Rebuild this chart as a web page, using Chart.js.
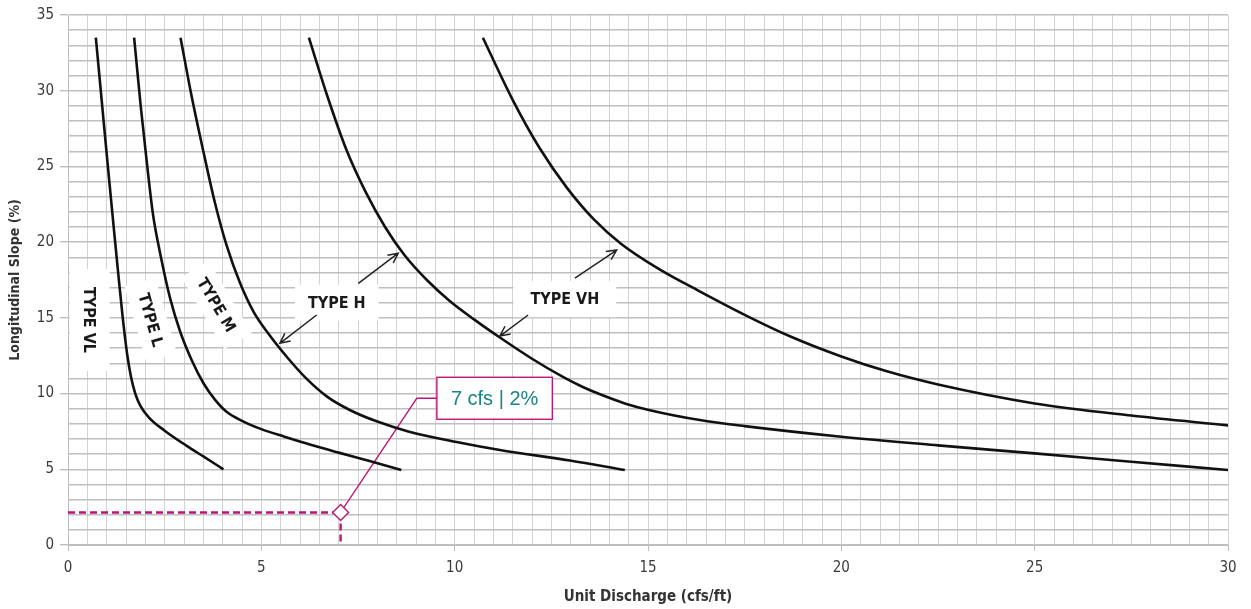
<!DOCTYPE html>
<html>
<head>
<meta charset="utf-8">
<script src="https://cdn.jsdelivr.net/npm/chart.js@4.4.1/dist/chart.umd.min.js"></script>
<style>
  html,body{margin:0;padding:0;background:#fff;}
  canvas{display:block;}
</style>
</head>
<body>
<canvas id="c" width="1251" height="609"></canvas>
<script>
// ---------- data ----------
const typeVL = [[0.72,33.5],[0.87,29.4],[1.02,25.3],[1.17,21.3],[1.3,17.9],[1.42,14.9],[1.53,12.6],[1.63,11.1],[1.74,10.0],[1.88,9.15],[2.1,8.4],[2.5,7.55],[3.07,6.55],[3.5,5.85],[4.02,5.0]];
const typeL  = [[1.71,33.5],[1.88,29],[2.05,25],[2.2,21.8],[2.38,19.3],[2.64,16.3],[2.9,14.1],[3.2,12.2],[3.5,10.7],[3.8,9.6],[4.1,8.8],[4.5,8.2],[5.0,7.65],[5.6,7.15],[6.3,6.6],[7.0,6.1],[7.8,5.55],[8.62,4.95]];
const typeM  = [[2.91,33.5],[3.2,29.6],[3.5,26.0],[3.8,22.6],[4.1,19.8],[4.45,17.3],[4.8,15.4],[5.2,13.9],[5.7,12.3],[6.2,10.9],[6.7,9.8],[7.3,8.9],[8.0,8.15],[8.8,7.5],[10.05,6.8],[11.17,6.27],[12.98,5.58],[14.4,4.95]];
const typeH  = [[6.23,33.5],[6.7,29.7],[7.2,26.1],[7.7,23.3],[8.2,21.0],[8.7,19.15],[9.3,17.45],[9.88,16.1],[10.5,14.9],[11.17,13.7],[12.0,12.3],[12.8,11.1],[13.3,10.45],[13.76,9.95],[14.4,9.35],[15.05,8.9],[16.34,8.25],[17.5,7.85],[20,7.15],[22.5,6.58],[25,6.05],[27.5,5.5],[30,4.95]];
const typeVH = [[10.73,33.5],[11.5,29.4],[12.2,26.2],[12.9,23.6],[13.6,21.5],[14.3,19.9],[15.3,18.2],[16.3,16.8],[17.5,15.2],[18.7,13.75],[20,12.45],[21.2,11.45],[22.5,10.6],[25,9.35],[27.5,8.55],[30,7.9]];
const designPoint = [7.05, 2.15];           // 7 cfs | 2%
const designLabel = '7 cfs | 2%';
const curveNames = ['TYPE VL','TYPE L','TYPE M','TYPE H','TYPE VH'];
const xTickLabels = [0,5,10,15,20,25,30];
const yTickLabels = [0,5,10,15,20,25,30,35];
const xTitle = 'Unit Discharge (cfs/ft)';
const yTitle = 'Longitudinal Slope (%)';

// ---------- styling ----------
const MAG = '#bb1677';
const TEAL = '#1b8385';
const LBLFONT = '"Liberation Sans Narrow","DejaVu Sans Condensed",Arial,sans-serif';

const toXY = a => a.map(p => ({x:p[0], y:p[1]}));
const curve = (name, pts) => ({
  label:name, data:toXY(pts), showLine:true, borderColor:'#111', borderWidth:2.6,
  pointRadius:0, cubicInterpolationMode:'monotone', fill:false
});

// labels / arrows positioned in data units
const labelDefs = [
  {text:curveNames[0], x:0.56, y:14.86, rot:90,  padX:18, padY:14},
  {text:curveNames[1], x:2.14, y:14.86, rot:74,  padX:12, padY:10},
  {text:curveNames[2], x:3.84, y:15.85, rot:59,  padX:12, padY:10},
  {text:curveNames[3], x:6.95, y:16.0,  rot:0,   padX:13, padY:12},
  {text:curveNames[4], x:12.85,y:16.23, rot:0,   padX:17, padY:12}
];
const arrowDefs = [
  [7.51,17.28, 8.54,19.27],
  [6.43,15.19, 5.48,13.32],
  [13.11,17.62,14.19,19.48],
  [11.9,15.19, 11.17,13.8]
];
const calloutAnchor = {left:9.54, midY:9.69, elbowX:9.02};

function fontStr(sz, w){ return (w||'bold') + ' ' + sz + 'px ' + LBLFONT; }

const overlay = {
  id:'overlay',
  beforeDatasetsDraw(chart){
    const c = chart.ctx, sx = chart.scales.x, sy = chart.scales.y;
    c.save();
    c.font = fontStr(16);
    labelDefs.forEach(d => {
      const w = c.measureText(d.text).width + 2*d.padX, h = 12 + 2*d.padY;
      c.save();
      c.translate(sx.getPixelForValue(d.x), sy.getPixelForValue(d.y));
      c.rotate(d.rot*Math.PI/180);
      c.fillStyle = '#fff';
      c.fillRect(-w/2, -h/2, w, h);
      c.restore();
    });
    // callout leader line
    const px = sx.getPixelForValue(designPoint[0]), py = sy.getPixelForValue(designPoint[1]);
    const lx = sx.getPixelForValue(calloutAnchor.left), ly = sy.getPixelForValue(calloutAnchor.midY);
    const ex = sx.getPixelForValue(calloutAnchor.elbowX);
    c.strokeStyle = MAG; c.lineWidth = 1.3;
    c.beginPath(); c.moveTo(lx, ly); c.lineTo(ex, ly); c.lineTo(px, py); c.stroke();
    c.restore();
  },
  afterDatasetsDraw(chart){
    const c = chart.ctx, sx = chart.scales.x, sy = chart.scales.y;
    c.save();
    c.font = fontStr(16);
    c.fillStyle = '#1a1a1a';
    c.textAlign = 'center'; c.textBaseline = 'middle';
    labelDefs.forEach(d => {
      c.save();
      c.translate(sx.getPixelForValue(d.x), sy.getPixelForValue(d.y));
      c.rotate(d.rot*Math.PI/180);
      c.fillText(d.text, 0, 1);
      c.restore();
    });
    // arrows
    c.strokeStyle = '#222'; c.lineWidth = 1.5;
    arrowDefs.forEach(a => {
      const x1 = sx.getPixelForValue(a[0]), y1 = sy.getPixelForValue(a[1]);
      const x2 = sx.getPixelForValue(a[2]), y2 = sy.getPixelForValue(a[3]);
      const ang = Math.atan2(y2-y1, x2-x1), L = 11, s = 0.45;
      c.beginPath(); c.moveTo(x1,y1); c.lineTo(x2,y2);
      c.moveTo(x2 - L*Math.cos(ang-s), y2 - L*Math.sin(ang-s)); c.lineTo(x2,y2);
      c.lineTo(x2 - L*Math.cos(ang+s), y2 - L*Math.sin(ang+s));
      c.stroke();
    });
    // callout box
    c.font = '20px "Liberation Sans",Arial,sans-serif';
    const tw = c.measureText(designLabel).width;
    const bw = tw + 28, bh = 42;
    const lx = sx.getPixelForValue(calloutAnchor.left), ly = sy.getPixelForValue(calloutAnchor.midY);
    c.fillStyle = '#fff'; c.fillRect(lx, ly - bh/2, bw, bh);
    c.strokeStyle = MAG; c.lineWidth = 1.4; c.strokeRect(lx, ly - bh/2, bw, bh);
    c.fillStyle = TEAL; c.textAlign = 'center'; c.textBaseline = 'middle';
    c.fillText(designLabel, lx + bw/2, ly + 1);
    c.restore();
  }
};

const tickFont = {family:LBLFONT, size:15};
new Chart(document.getElementById('c'), {
  type:'scatter',
  data:{datasets:[
    {label:'point', data:[{x:designPoint[0], y:designPoint[1]}], pointStyle:'rectRot', pointRadius:8,
     pointBackgroundColor:'#fff', pointBorderColor:MAG, pointBorderWidth:1.4, showLine:false},
    {label:'h', data:[{x:0,y:designPoint[1]},{x:designPoint[0],y:designPoint[1]}], showLine:true,
     borderColor:MAG, borderWidth:2.4, borderDash:[7,4], pointRadius:0},
    {label:'v', data:[{x:designPoint[0],y:designPoint[1]},{x:designPoint[0],y:0}], showLine:true,
     borderColor:MAG, borderWidth:2.4, borderDash:[7,4], pointRadius:0},
    curve(curveNames[0], typeVL),
    curve(curveNames[1], typeL),
    curve(curveNames[2], typeM),
    curve(curveNames[3], typeH),
    curve(curveNames[4], typeVH)
  ]},
  options:{
    responsive:false, animation:false, events:[],
    layout:{padding:{left:0, right:23, top:15, bottom:0}},
    plugins:{legend:{display:false}, tooltip:{enabled:false}},
    scales:{
      x:{
        type:'linear', min:0, max:30,
        afterFit(s){ s.height = 64; },
        border:{color:'#bdbdbd', width:1},
        grid:{color:'#d3d3d3', lineWidth:1, tickLength:6,
              tickColor:(ctx)=> (ctx.tick && xTickLabels.includes(ctx.tick.value)) ? '#bdbdbd' : 'rgba(0,0,0,0)'},
        ticks:{stepSize:0.5, maxTicksLimit:200, autoSkip:false, maxRotation:0, padding:8,
               color:'#3a3a3a', font:tickFont,
               callback:(v)=> xTickLabels.includes(v) ? String(v) : ''},
        title:{display:true, text:xTitle, color:'#333', font:{family:LBLFONT, size:15, weight:'bold'},
               padding:{top:0, bottom:3}}
      },
      y:{
        type:'linear', min:0, max:35,
        afterFit(s){ s.width = 68; },
        border:{color:'#bdbdbd', width:1},
        grid:{color:'#bfbfbf', lineWidth:1.4, tickLength:8,
              tickColor:(ctx)=> (ctx.tick && yTickLabels.includes(ctx.tick.value)) ? '#bdbdbd' : 'rgba(0,0,0,0)'},
        ticks:{stepSize:1, maxTicksLimit:200, autoSkip:false, padding:6,
               color:'#3a3a3a', font:tickFont,
               callback:(v)=> yTickLabels.includes(v) ? String(v) : ''},
        title:{display:true, text:yTitle, color:'#333', font:{family:LBLFONT, size:14, weight:'bold'},
               padding:{top:7, bottom:0}}
      }
    }
  },
  plugins:[overlay]
});
</script>
</body>
</html>
